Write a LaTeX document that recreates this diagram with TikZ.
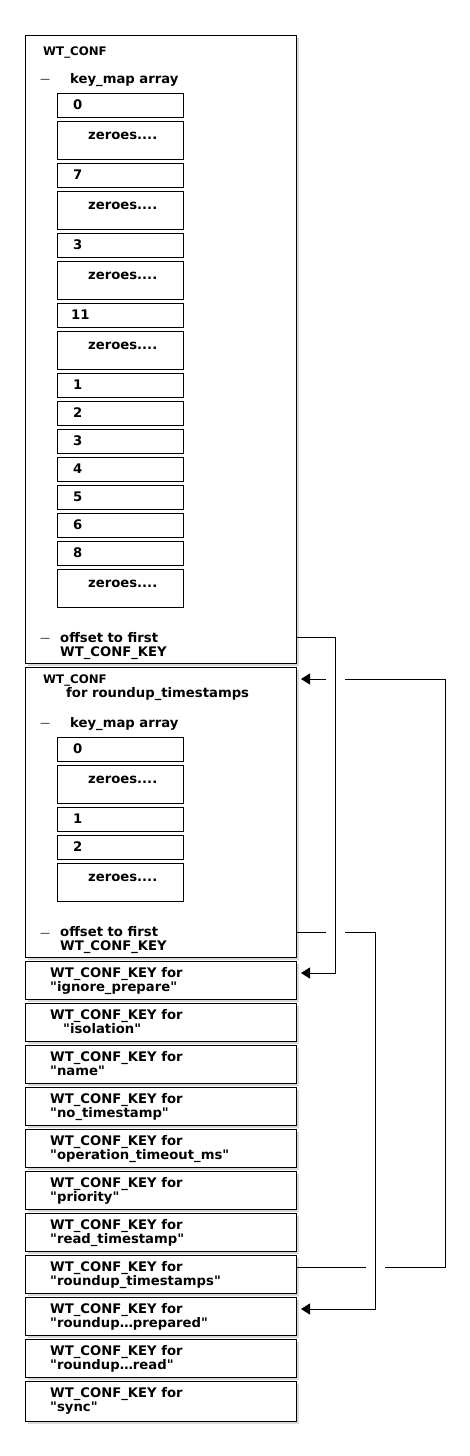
\documentclass[tikz,border=0pt]{standalone}
\usepackage{fontspec}
\setmainfont{DejaVu Sans}
\usetikzlibrary{arrows.meta,shadows}
\newcommand{\zrs}{zeroes....}
\newcommand{\qt}{\textquotedbl}
\begin{document}
\begin{tikzpicture}[x=1pt,y=-1pt,
 box/.style={draw, line width=1pt, fill=white, minimum width=271pt, anchor=north west, inner sep=0pt,
   drop shadow={shadow xshift=2.5pt,shadow yshift=-2.5pt,opacity=0.3}},
 cellbox/.style={draw, line width=0.9pt, fill=white, minimum width=126pt, anchor=north west, inner sep=0pt},
 txt/.style={anchor=base west, inner sep=0pt, font=\fontsize{13.2}{14}\selectfont\bfseries},
 small/.style={anchor=base west, inner sep=0pt, font=\fontsize{11.8}{12}\selectfont\bfseries},
 dashmark/.style={anchor=base west, inner sep=0pt, font=\fontsize{10}{12}\selectfont},
 conn/.style={line width=1pt},
 arr/.style={conn, -{Triangle[length=9pt,width=11pt]}, shorten >=4pt}]
\fill[white] (0,0) rectangle (470,1456);
\useasboundingbox (0,0) rectangle (470,1456);

% ---------- first WT_CONF ----------
\node[box, minimum height=628pt] (b1) at (25,35) {};
\node[small] (b1t) at (43,55) {WT\_CONF};
\node[dashmark] (b1d) at (40,82) {—};
\node[txt] (b1k) at (70,83) {key\_map array};
\foreach \i/\top/\h/\lab/\lx/\ly in {1/93/24/0/73/16, 2/121/38/\zrs/88/18, 3/163/24/7/73/16,
  4/191/38/\zrs/88/18, 5/233/24/3/73/16, 6/261/38/\zrs/88/18, 7/303/24/11/71/16,
  8/331/38/\zrs/88/18, 9/373/24/1/73/16, 10/401/24/2/73/16, 11/429/24/3/73/16,
  12/457/24/4/73/16, 13/485/24/5/73/16, 14/513/24/6/73/16, 15/541/24/8/73/16,
  16/569/38/\zrs/88/18}{
  \node[cellbox, minimum height=\h pt] (c\i) at (57,\top) {};
  \node[txt] (cl\i) at (\lx,\top+\ly) {\lab};
}
\node[dashmark] (b1o) at (40,641) {—};
\node[txt] (b1o1) at (60,642) {offset to first};
\node[txt] (b1o2) at (60,656) {WT\_CONF\_KEY};

% ---------- second WT_CONF ----------
\node[box, minimum height=290pt] (b2) at (25,667) {};
\node[small] (b2t) at (43,683) {WT\_CONF};
\node[txt] (b2f) at (66,697) {for roundup\_timestamps};
\node[dashmark] (b2d) at (40,726) {—};
\node[txt] (b2k) at (70,727) {key\_map array};
\foreach \i/\top/\h/\lab/\lx/\ly in {1/737/24/0/73/16, 2/765/38/\zrs/88/18,
  3/807/24/1/73/16, 4/835/24/2/73/16, 5/863/38/\zrs/88/18}{
  \node[cellbox, minimum height=\h pt] (d\i) at (57,\top) {};
  \node[txt] (dl\i) at (\lx,\top+\ly) {\lab};
}
\node[dashmark] (b2o) at (40,936) {—};
\node[txt] (b2o1) at (60,936) {offset to first};
\node[txt] (b2o2) at (60,950) {WT\_CONF\_KEY};

% ---------- WT_CONF_KEY boxes ----------
\foreach \i/\top/\h/\name/\ix in {1/961/38/{\qt ignore\_prepare\qt}/50, 2/1003/38/{\qt isolation\qt}/63,
  3/1045/38/{\qt name\qt}/50, 4/1087/38/{\qt no\_timestamp\qt}/50, 5/1129/38/{\qt operation\_timeout\_ms\qt}/50,
  6/1171/38/{\qt priority\qt}/50, 7/1213/38/{\qt read\_timestamp\qt}/50, 8/1255/38/{\qt roundup\_timestamps\qt}/50,
  9/1297/38/{\qt roundup…prepared\qt}/50, 10/1339/38/{\qt roundup…read\qt}/50, 11/1381/40/{\qt sync\qt}/50}{
  \node[box, minimum height=\h pt] (k\i) at (25,\top) {};
  \node[txt] (kt\i) at (50,\top+16.5) {WT\_CONF\_KEY for};
  \node[txt] (kn\i) at (\ix,\top+30) {\name};
}

% ---------- connectors ----------
\coordinate (vA) at (335,0);
\coordinate (vB) at (375,0);
\coordinate (vC) at (445,0);
\coordinate (gL) at (326,0);
\coordinate (gR) at (345,0);
\coordinate (gL2) at (366,0);
\coordinate (gR2) at (385,0);
\coordinate (yA1) at (0,637);
\coordinate (yA2) at (0,973);
\coordinate (yB1) at (0,932);
\coordinate (yB2) at (0,1309);
\coordinate (yC1) at (0,1267);
\coordinate (yC2) at (0,679);

\draw[arr] (b1.east |- yA1) -- (vA |- yA1) -- (vA |- yA2) -- (k1.east |- yA2);

\draw[conn] (b2.east |- yB1) -- (gL |- yB1);
\draw[arr] (gR |- yB1) -- (vB |- yB1) -- (vB |- yB2) -- (k9.east |- yB2);

\draw[conn] (k8.east |- yC1) -- (gL2 |- yC1);
\draw[conn] (gR2 |- yC1) -- (vC |- yC1) -- (vC |- yC2) -- (gR |- yC2);
\draw[arr] (gL |- yC2) -- (b2.east |- yC2);
\end{tikzpicture}
\end{document}
